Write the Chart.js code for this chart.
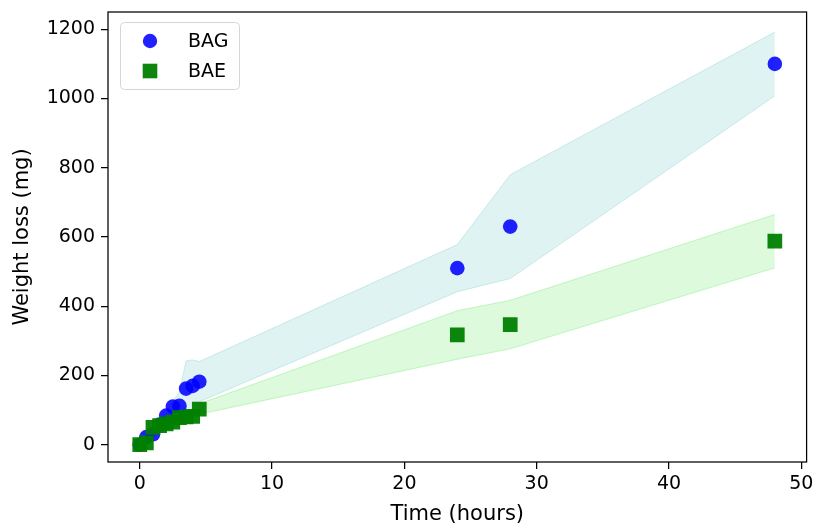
<!DOCTYPE html>
<html>
<head>
<meta charset="utf-8">
<script src="https://cdn.jsdelivr.net/npm/chart.js@4.4.1/dist/chart.umd.min.js"></script>
<style>
  html, body { margin: 0; padding: 0; background: #fff; }
  #wrap { width: 817px; height: 526px; }
</style>
</head>
<body>
<div id="wrap"><canvas id="grafico" width="817" height="526"></canvas></div>
<script>
// Datos
const tiempo = [0, 0.5, 1, 1.5, 2, 2.5, 3, 3.5, 4, 4.5, 24, 28, 48];
const bag = [0, 22, 30, 58, 84, 110, 112, 162, 170, 182, 510, 630, 1100];
const bagStd = [3, 6, 8, 10, 12, 15, 40, 80, 75, 58, 68, 150, 92];
const bae = [0, 5, 50, 55, 60, 65, 78, 80, 82, 103, 317, 347, 588];
const baeStd = [3, 5, 8, 8, 10, 10, 12, 12, 12, 15, 70, 70, 77];
const xTicks = [0, 10, 20, 30, 40, 50];
const yTicks = [0, 200, 400, 600, 800, 1000, 1200];

const FONT = 'DejaVu Sans';
const fontSize = 19;
const tituloSize = 21;

function puntos(ys) {
  return tiempo.map((t, i) => ({ x: t, y: ys[i] }));
}
function banda(ys, sd, signo) {
  return tiempo.map((t, i) => ({ x: t, y: ys[i] + signo * sd[i] }));
}

// marco completo + leyenda estilo matplotlib
const marco = {
  id: 'marco',
  afterDraw(chart) {
    const { ctx, chartArea: a } = chart;
    ctx.save();
    ctx.strokeStyle = '#000';
    ctx.lineWidth = 1.25;
    ctx.strokeRect(a.left, a.top, a.right - a.left, a.bottom - a.top);

    // leyenda
    const x0 = 120.5, y0 = 22.5, w = 119, h = 67, r = 4;
    ctx.beginPath();
    ctx.moveTo(x0 + r, y0);
    ctx.arcTo(x0 + w, y0, x0 + w, y0 + h, r);
    ctx.arcTo(x0 + w, y0 + h, x0, y0 + h, r);
    ctx.arcTo(x0, y0 + h, x0, y0, r);
    ctx.arcTo(x0, y0, x0 + w, y0, r);
    ctx.closePath();
    ctx.fillStyle = 'rgba(255,255,255,0.8)';
    ctx.fill();
    ctx.strokeStyle = '#d6d6d6';
    ctx.lineWidth = 1;
    ctx.stroke();

    const items = [
      { ds: chart.data.datasets[1], y: 41 },
      { ds: chart.data.datasets[0], y: 71 }
    ];
    ctx.font = fontSize + 'px "' + FONT + '"';
    ctx.textBaseline = 'middle';
    items.forEach(it => {
      ctx.fillStyle = it.ds.backgroundColor;
      if (it.ds.pointStyle === 'rect') {
        ctx.fillRect(150 - 7.3, it.y - 7.3, 14.6, 14.6);
      } else {
        ctx.beginPath();
        ctx.arc(150, it.y, 7.2, 0, Math.PI * 2);
        ctx.fill();
      }
      ctx.fillStyle = '#000';
      ctx.fillText(it.ds.label, 188, it.y + 1);
    });
    ctx.restore();
  }
};

function sinPadding(s) {
  s.paddingLeft = 0; s.paddingRight = 0; s.paddingTop = 0; s.paddingBottom = 0;
}

const ctx = document.getElementById('grafico').getContext('2d');
const chart = new Chart(ctx, {
  type: 'scatter',
  data: {
    datasets: [
      {
        label: 'BAE',
        data: puntos(bae),
        pointStyle: 'rect',
        pointRadius: 10.4,
        backgroundColor: 'rgba(0,128,0,0.95)',
        borderWidth: 0
      },
      {
        label: 'BAG',
        data: puntos(bag),
        pointStyle: 'circle',
        pointRadius: 7.3,
        backgroundColor: 'rgba(0,0,255,0.87)',
        borderWidth: 0
      },
      {
        type: 'line',
        label: 'bag_bajo',
        data: banda(bag, bagStd, -1),
        borderColor: 'rgba(160,215,222,0.5)',
        borderWidth: 1,
        pointRadius: 0,
        fill: false
      },
      {
        type: 'line',
        label: 'bag_alto',
        data: banda(bag, bagStd, 1),
        borderColor: 'rgba(160,215,222,0.5)',
        backgroundColor: 'rgba(165,220,222,0.35)',
        borderWidth: 1,
        pointRadius: 0,
        fill: '-1'
      },
      {
        type: 'line',
        label: 'bae_bajo',
        data: banda(bae, baeStd, -1),
        borderColor: 'rgba(144,238,144,0.5)',
        borderWidth: 1,
        pointRadius: 0,
        fill: false
      },
      {
        type: 'line',
        label: 'bae_alto',
        data: banda(bae, baeStd, 1),
        borderColor: 'rgba(144,238,144,0.5)',
        backgroundColor: 'rgba(144,238,144,0.3)',
        borderWidth: 1,
        pointRadius: 0,
        fill: '-1'
      }
    ]
  },
  options: {
    responsive: false,
    animation: false,
    layout: { padding: { left: 0, top: 12, right: 9, bottom: 0 } },
    plugins: {
      legend: { display: false },
      tooltip: { enabled: false }
    },
    scales: {
      x: {
        type: 'linear',
        min: -2.4,
        max: 50.4,
        afterBuildTicks: s => { s.ticks = xTicks.map(v => ({ value: v })); },
        afterFit: s => { s.height = 64; sinPadding(s); },
        afterUpdate: sinPadding,
        border: { display: false },
        grid: { drawOnChartArea: false, drawTicks: true, tickLength: 7, color: '#000', lineWidth: 1.25 },
        ticks: { color: '#000', padding: 4, maxRotation: 0, callback: v => String(v), font: { family: FONT, size: fontSize } },
        title: { display: true, text: 'Time (hours)', color: '#000', padding: { top: 0, bottom: -1 }, font: { family: FONT, size: tituloSize } }
      },
      y: {
        type: 'linear',
        min: -50,
        max: 1250,
        afterBuildTicks: s => { s.ticks = yTicks.map(v => ({ value: v })); },
        afterFit: s => { s.width = 108; sinPadding(s); },
        afterUpdate: sinPadding,
        border: { display: false },
        grid: { drawOnChartArea: false, drawTicks: true, tickLength: 7, color: '#000', lineWidth: 1.25 },
        ticks: { color: '#000', padding: 6, callback: v => String(v), font: { family: FONT, size: fontSize } },
        title: { display: true, text: 'Weight loss (mg)', color: '#000', padding: { top: 10, bottom: 0 }, font: { family: FONT, size: tituloSize } }
      }
    }
  },
  plugins: [marco]
});
</script>
</body>
</html>
